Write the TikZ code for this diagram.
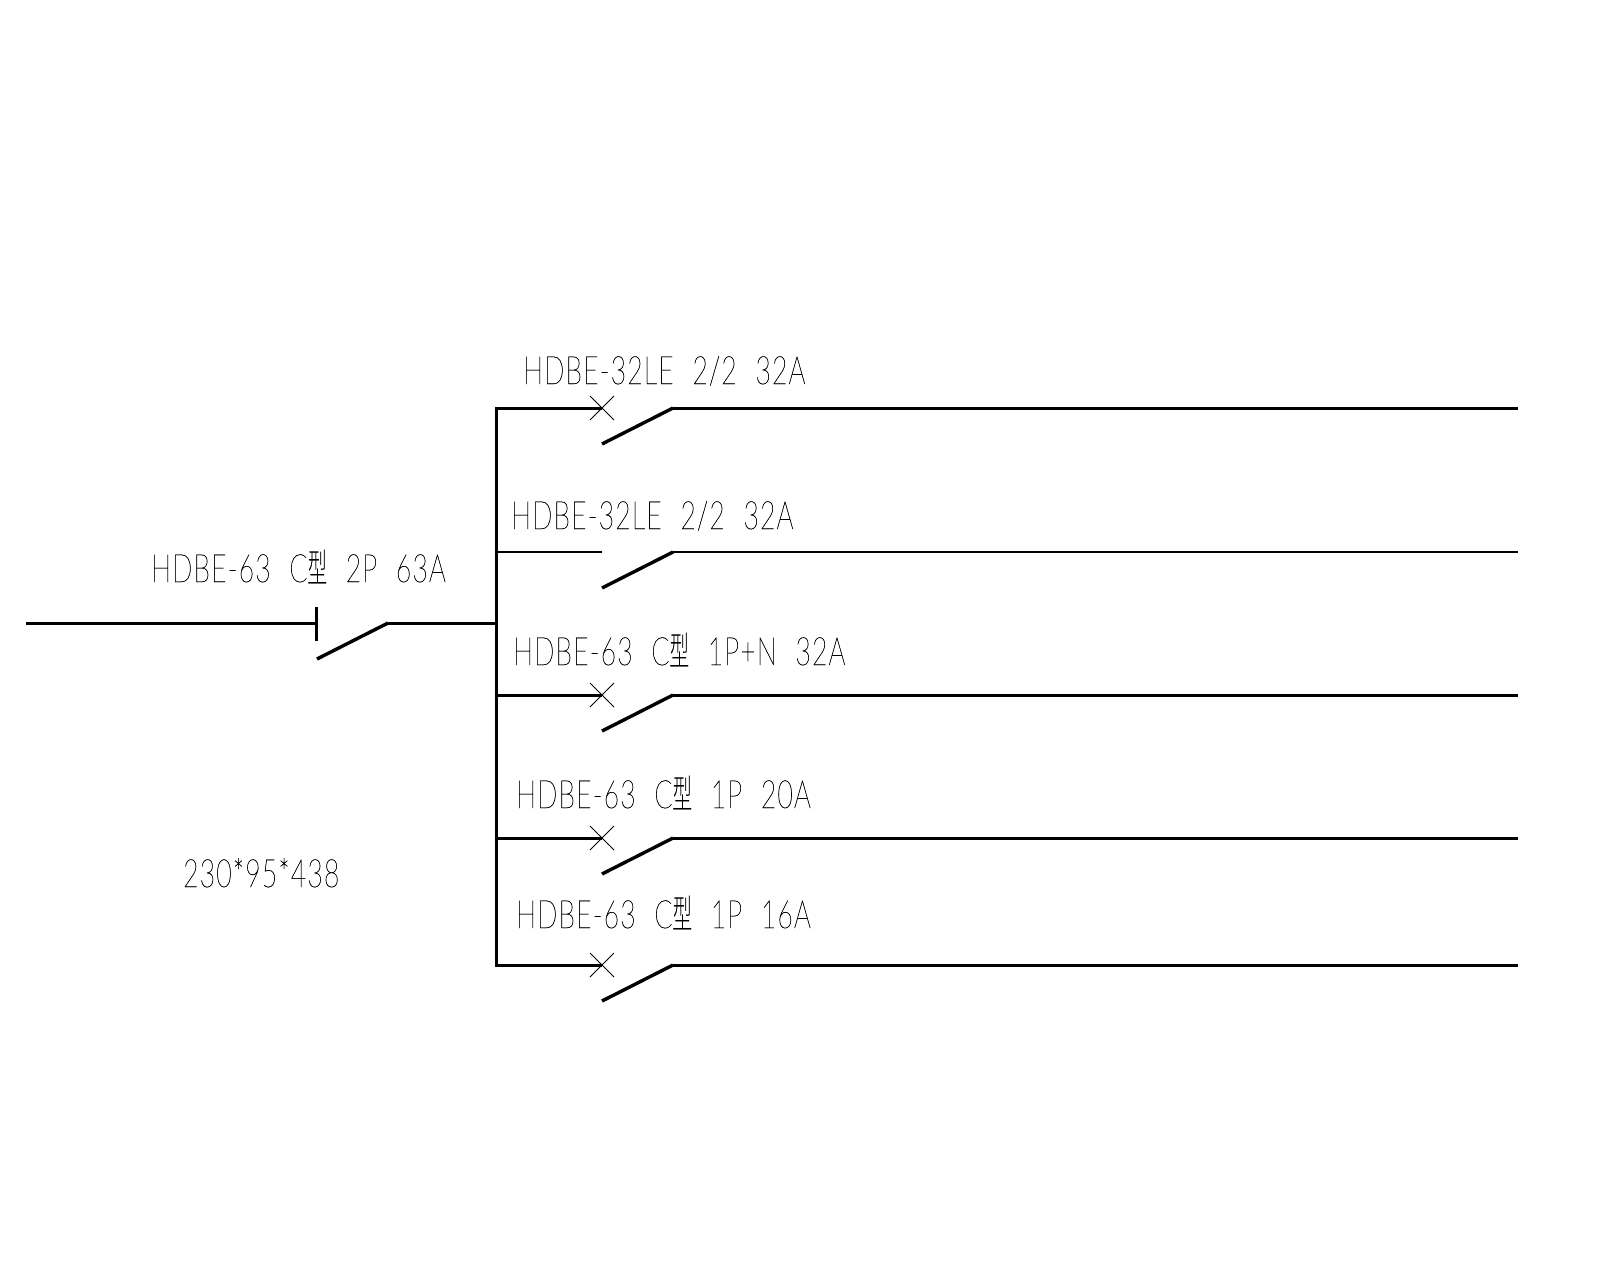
\documentclass[tikz,border=0pt]{standalone}
\usepackage{fontspec}
\usetikzlibrary{calc}
\newfontfamily\cad[FakeStretch=0.68,FakeBold=0.6,LetterSpace=3,UprightFont=* Thin,WordSpace=2.15]{Lato}
\newfontfamily\cadcjk[FakeStretch=0.5,FakeBold=0.4]{Noto Sans CJK SC Thin}
\tikzset{
  wire/.style={line width=3pt},
  thinwire/.style={line width=2.2pt},
  blade/.style={line width=3.4pt},
  xmark/.style={line width=0.9pt},
  lab/.style={anchor=base west,inner sep=0pt,font=\cad\fontsize{39}{39}\selectfont}
}
\begin{document}
\begin{tikzpicture}[x=1pt,y=-1pt]
\useasboundingbox (0,0) rectangle (1600,1280);
\fill[white] (0,0) rectangle (1600,1280);
\coordinate (bt) at (496,408);
\coordinate (bb) at (496,965);
\draw[wire,line cap=rect] (bt) -- (bb);
\coordinate (in) at (26,623);
\coordinate (j) at (496,623);
\coordinate (mA) at (316,623);
\coordinate (mB) at (388,623);
\coordinate (mC) at (317,659);
\coordinate (mT) at (316,607);
\coordinate (mD) at (316,641);
\draw[wire] (in) -- (mA);
\draw[wire] (mB) -- (j);
\draw[wire] (mT) -- (mD);
\draw[blade] (mC) -- (mB);
\foreach \n/\y/\s in {a/408/wire,b/552/thinwire,c/695/wire,d/838/wire,e/965/wire}{
  \coordinate (\n1) at (496,\y);
  \coordinate (\n2) at (602,\y);
  \coordinate (\n3) at (673,\y);
  \coordinate (\n4) at (602,\y+36);
  \coordinate (\n5) at (1518,\y);
  \draw[\s] (\n1) -- (\n2);
  \draw[\s] (\n3) -- (\n5);
  \draw[blade] (\n4) -- (\n3);
}
\foreach \n in {a,c,d,e}{
  \draw[xmark] ($(\n2)+(-12,-12)$) -- ($(\n2)+(12,12)$);
  \draw[xmark] ($(\n2)+(-12,12)$) -- ($(\n2)+(12,-12)$);
}
\node[lab] (la) at (523,384) {HDBE-32LE 2/2 32A};
\node[lab] (lb) at (511,529) {HDBE-32LE 2/2 32A};
\node[lab] (lm) at (151,582) {HDBE-63 C{\cadcjk 型} 2P 63A};
\node[lab] (lc) at (513,665) {HDBE-63 C{\cadcjk 型} 1P+N 32A};
\node[lab] (ld) at (516,808) {HDBE-63 C{\cadcjk 型} 1P 20A};
\node[lab] (le) at (516,928) {HDBE-63 C{\cadcjk 型} 1P 16A};
\node[lab] (ls) at (183,887) {230*95*438};
\end{tikzpicture}
\end{document}
